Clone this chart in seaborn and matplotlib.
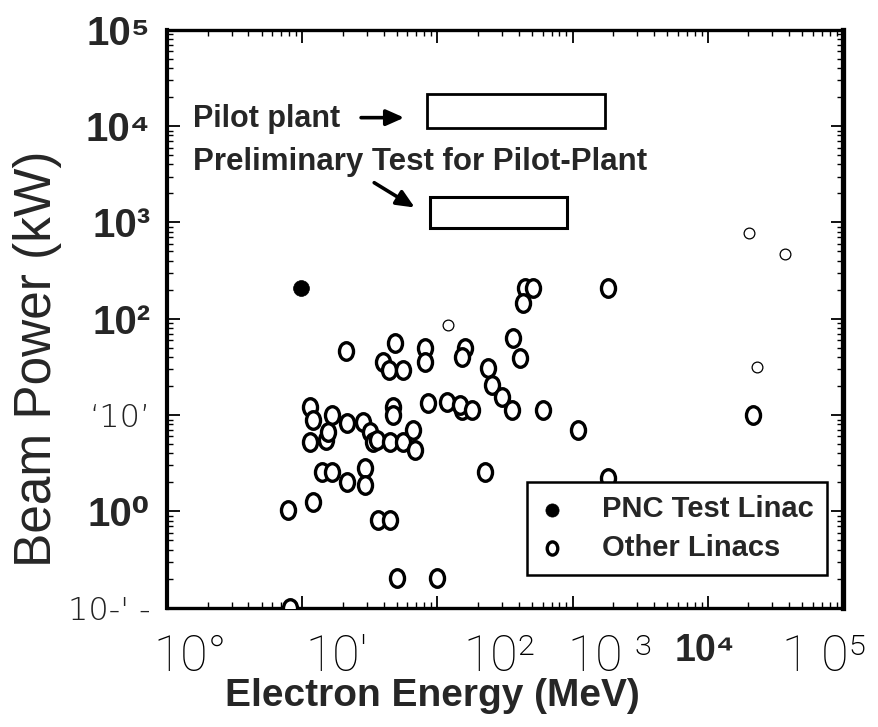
import numpy as np
import pandas as pd
import matplotlib
matplotlib.use("Agg")
import matplotlib.pyplot as plt
import seaborn as sns
from matplotlib.path import Path
from matplotlib.transforms import Affine2D
from matplotlib.patches import Rectangle

# ---------------- data ----------------
pnc_energy = [9.8]
pnc_power = [210]

other_energy = [7.85, 12.0, 8.1, 21.1, 11.4, 12.0, 16.6, 21.4, 11.4, 15.0, 15.5, 28.2, 31.7,
                33.4, 14.0, 16.6, 21.4, 29.1, 29.1, 36.4, 44.6, 50.2, 99.3, 39.6, 43.9, 55.7,
                48.6, 81.0, 81.0, 46.9, 46.9, 85.2, 118, 152, 35.7, 44.6, 55.7, 66.0, 68.3,
                160, 152, 237, 253, 300, 147, 180, 356, 604, 1096, 225, 1828, 444, 510, 430,
                1828, 362, 408, 21600]
other_power = [1.04, 1.26, 0.10, 46.4, 12.2, 8.9, 10.0, 8.3, 5.3, 5.5, 6.7, 8.5, 6.7,
               5.3, 2.57, 2.57, 2.02, 2.83, 1.88, 0.82, 0.82, 0.204, 0.204, 35.7, 29.5, 29.5,
               56.2, 49.9, 35.7, 12.2, 10.0, 13.4, 13.7, 11.3, 5.5, 5.3, 5.3, 7.0, 4.35,
               49.9, 40.2, 30.9, 20.6, 15.5, 12.8, 11.3, 11.3, 11.3, 7.0, 2.57, 2.23, 209, 209, 146,
               209, 63.4, 39.3, 10.0]

# faint small markers (printed lighter in the reference)
faint_energy = [120, 20200, 37200, 23100]
faint_power = [86, 780, 472, 31.6]

pilot_box = [84, 1740, 9600, 21600]        # E min, E max, P min, P max
prelim_box = [88, 910, 880, 1850]

ytick_vals = [1e-1, 1e0, 1e1, 1e2, 1e3, 1e4, 1e5]
ytick_labels = ["10-' -", "10\u2070", "\u201810\u2019", "10\u00b2", "10\u00b3", "10\u2074", "10\u2075"]
xtick_vals = [1e0, 1e1, 1e2, 1e3, 1e4, 1e5]
xtick_labels = ["10\u00b0", "10\u2032", "10\u00b2", "10 \u00b3", "10\u2074", "1 0\u2075"]

# ---------------- styling ----------------
sns.set_theme(style="white")
plt.rcParams['font.family'] = ['Liberation Sans', 'DejaVu Sans']
BOLD = ['Liberation Sans', 'DejaVu Sans']
THIN = ['Roboto', 'DejaVu Sans']

fig = plt.figure(figsize=(8.79, 7.27), dpi=100)
ax = fig.add_axes([0.190, 0.164, 0.769, 0.795])
ax.set_xscale("log")
ax.set_yscale("log")
ax.set_xlim(1e0, 1e5)
ax.set_ylim(1e-1, 1e5)

oval = Path.unit_circle().transformed(Affine2D().scale(0.8, 1.0))

df_other = pd.DataFrame({"energy": other_energy, "power": other_power})
df_pnc = pd.DataFrame({"energy": pnc_energy, "power": pnc_power})
df_faint = pd.DataFrame({"energy": faint_energy, "power": faint_power})

sns.scatterplot(data=df_pnc, x="energy", y="power", ax=ax, marker="o", s=130,
                color="black", edgecolor="black", linewidth=0.5, label="PNC Test Linac",
                zorder=4)
sns.scatterplot(data=df_other, x="energy", y="power", ax=ax, marker=oval, s=160,
                facecolor="white", edgecolor="black", linewidth=2.4, label="Other Linacs",
                zorder=3)
sns.scatterplot(data=df_faint, x="energy", y="power", ax=ax, marker="o", s=60,
                facecolor="white", edgecolor="black", linewidth=0.9, legend=False, zorder=3)

# boxes
for (e0, e1, p0, p1), lw in [(pilot_box, 2.0), (prelim_box, 2.2)]:
    ax.add_patch(Rectangle((e0, p0), e1 - e0, p1 - p0, fill=False, edgecolor="black",
                           linewidth=lw, zorder=2))

ax.text(0.038, 0.846, "Pilot plant", transform=ax.transAxes, fontsize=22,
        fontweight="bold", family=BOLD, va="center", ha="left")
ax.annotate("", xy=(0.355, 0.848), xytext=(0.283, 0.848), xycoords="axes fraction",
            arrowprops=dict(arrowstyle="-|>,head_length=0.9,head_width=0.4", color="black", lw=2.6))
ax.text(0.038, 0.772, "Preliminary Test for Pilot-Plant", transform=ax.transAxes,
        fontsize=22.5, fontweight="bold", family=BOLD, va="center", ha="left")
ax.annotate("", xy=(0.370, 0.690), xytext=(0.303, 0.738), xycoords="axes fraction",
            arrowprops=dict(arrowstyle="-|>,head_length=0.9,head_width=0.4", color="black", lw=2.6))

# axes frame and ticks
for side, lw in [("left", 3.0), ("right", 3.8), ("top", 2.4), ("bottom", 2.4)]:
    ax.spines[side].set_visible(True)
    ax.spines[side].set_color("black")
    ax.spines[side].set_linewidth(lw)

ax.tick_params(which="major", direction="in", length=9, width=1.3, top=True, right=True,
               bottom=True, left=True, color="black")
ax.tick_params(which="minor", direction="in", length=4, width=1.0, top=True, right=True,
               bottom=True, left=True, color="black")
ax.yaxis.set_minor_locator(matplotlib.ticker.LogLocator(base=10, subs=np.arange(2, 10), numticks=20))
ax.xaxis.set_minor_locator(matplotlib.ticker.LogLocator(base=10, subs=np.arange(2, 10), numticks=20))
ax.yaxis.set_minor_formatter(matplotlib.ticker.NullFormatter())
ax.xaxis.set_minor_formatter(matplotlib.ticker.NullFormatter())

ax.set_yticks(ytick_vals)
ax.set_yticklabels(ytick_labels)
for i, lab in enumerate(ax.get_yticklabels()):
    if i in (0, 2):
        lab.set_fontfamily(['DejaVu Sans'])
        lab.set_fontweight("light")
        lab.set_fontsize(23)
        lab.set_color("#222222")
    else:
        lab.set_fontfamily(BOLD)
        lab.set_fontweight("bold")
        lab.set_fontsize(29)
ax.tick_params(axis="y", which="major", pad=12)

ax.set_xticks(xtick_vals)
ax.set_xticklabels([])
x_pos = [0.035, 0.251, 0.492, 0.655, 0.796, 0.972]
for i, (xp, t) in enumerate(zip(x_pos, xtick_labels)):
    if i == 4:
        ax.text(xp, -0.075, t, transform=ax.transAxes, ha="center", va="center",
                fontsize=27, fontweight="bold", family=BOLD)
    else:
        ax.text(xp, -0.085, t, transform=ax.transAxes, ha="center", va="center",
                fontsize=36, fontweight="light", family=THIN, color="black")

ax.set_xlabel("Electron Energy (MeV)", fontsize=28, fontweight="bold", family=BOLD)
ax.xaxis.set_label_coords(0.392, -0.122)
ax.set_ylabel("Beam Power (kW)", fontsize=37, family=['Liberation Sans', 'DejaVu Sans'])
ax.yaxis.set_label_coords(-0.155, 0.43)

handles, labels = ax.get_legend_handles_labels()
order = [labels.index("PNC Test Linac"), labels.index("Other Linacs")]
leg = ax.legend([handles[i] for i in order], [labels[i] for i in order],
                loc="lower right", bbox_to_anchor=(0.976, 0.057), borderaxespad=0.0,
                frameon=True, fancybox=False, edgecolor="black", framealpha=1,
                borderpad=0.45, handletextpad=1.3, labelspacing=0.35, handlelength=0.8,
                prop={"family": BOLD, "weight": "bold", "size": 21})
leg.get_frame().set_linewidth(1.8)
for h in leg.legend_handles:
    try:
        h.set_sizes([90])
    except Exception:
        pass

fig.savefig("out.png", dpi=100)
